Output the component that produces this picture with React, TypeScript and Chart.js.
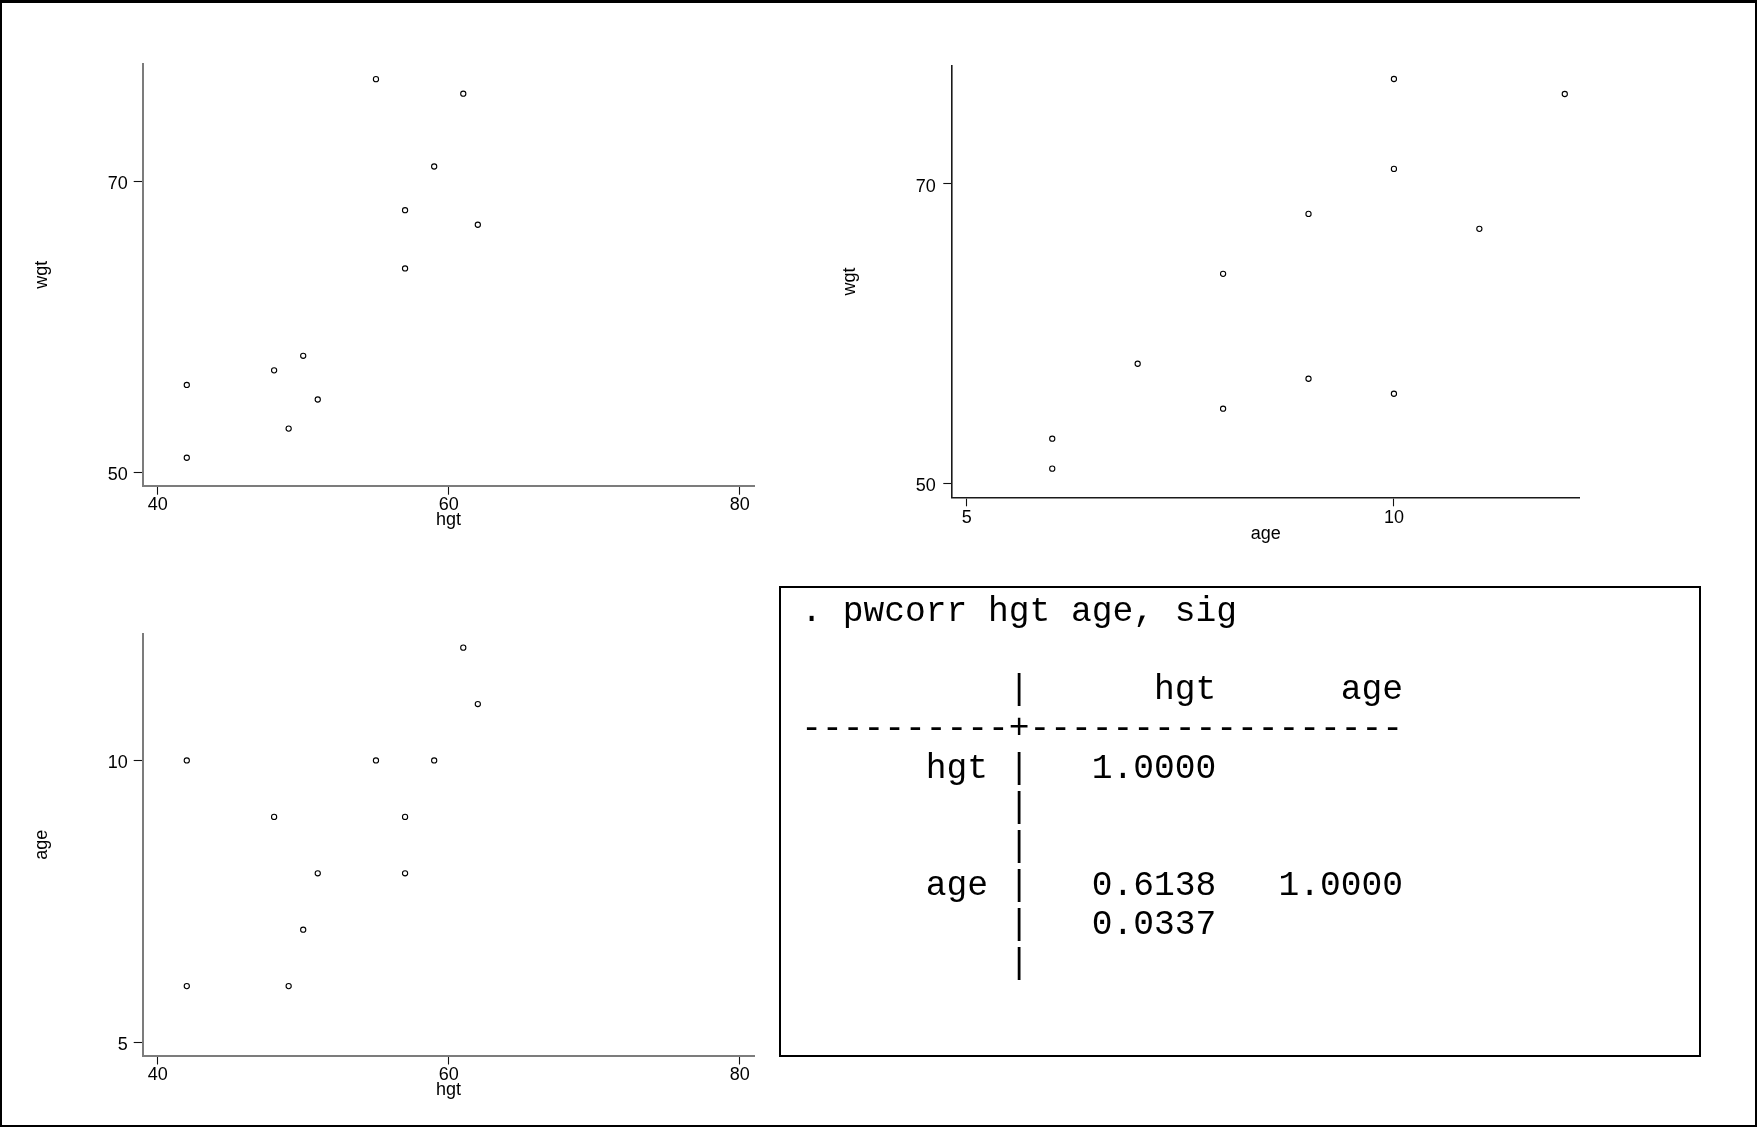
import React, { useEffect, useRef } from "react";
import { Chart, registerables } from "chart.js";

Chart.register(...registerables);

// ---- data (12 observations) ----
const HGT = [55, 61, 59, 57, 62, 57, 50, 48, 42, 51, 49, 42];
const WGT = [77, 76, 71, 68, 67, 64, 58, 57, 56, 55, 53, 51];
const AGE = [10, 12, 10, 9, 11, 8, 7, 9, 10, 8, 6, 6];

// ---- tick labels ----
const HGT_TICKS = [40, 60, 80];
const WGT_TICKS = [50, 70];
const AGE_TICKS = [5, 10];

// ---- console output text ----
const PWCORR_LINES = [
  " . pwcorr hgt age, sig",
  "",
  "           |      hgt      age",
  " ----------+------------------",
  "       hgt |   1.0000",
  "           |",
  "           |",
  "       age |   0.6138   1.0000",
  "           |   0.0337",
  "           |",
];

const SANS = "'Liberation Sans', Arial, Helvetica, sans-serif";

interface AxisSpec {
  data: number[];
  ticks: number[];
  title: string;
  min: number;
  max: number;
}

interface PanelSpec {
  box: [number, number, number, number]; // L, T, W, H (page px)
  area: [number, number, number, number]; // chart area left, top, right, bottom (page px)
  x: AxisSpec;
  y: AxisSpec;
  axisColor: string;
  axisWidth: number;
  yTickPad: number;
  xTickPad: number;
  yTitleCenterX: number; // page px
  xTitleCenterY: number; // page px
}

const PANELS: PanelSpec[] = [
  {
    box: [0, 0, 800, 560],
    area: [142.7, 64, 754.3, 485.7],
    x: { data: HGT, ticks: HGT_TICKS, title: "hgt", min: 38.97, max: 81.0 },
    y: { data: WGT, ticks: WGT_TICKS, title: "wgt", min: 49.08, max: 78.04 },
    axisColor: "#7c7c7c",
    axisWidth: 2,
    yTickPad: 6,
    xTickPad: 1.5,
    yTitleCenterX: 42.5,
    xTitleCenterY: 520.5,
  },
  {
    box: [790, 0, 960, 560],
    area: [952.3, 65.5, 1579.3, 497.3],
    x: { data: AGE, ticks: AGE_TICKS, title: "age", min: 4.83, max: 12.17 },
    y: { data: WGT, ticks: WGT_TICKS, title: "wgt", min: 49.09, max: 77.9 },
    axisColor: "#1a1a1a",
    axisWidth: 1.6,
    yTickPad: 7.5,
    xTickPad: 3,
    yTitleCenterX: 850,
    xTitleCenterY: 534.5,
  },
  {
    box: [0, 570, 800, 557],
    area: [142.7, 634.1, 754.3, 1055.5],
    x: { data: HGT, ticks: HGT_TICKS, title: "hgt", min: 38.97, max: 81.0 },
    y: { data: AGE, ticks: AGE_TICKS, title: "age", min: 4.77, max: 12.24 },
    axisColor: "#7c7c7c",
    axisWidth: 2,
    yTickPad: 6,
    xTickPad: 2,
    yTitleCenterX: 42.5,
    xTitleCenterY: 1090.5,
  },
];

function buildConfig(spec: PanelSpec): any {
  const [L, T, W, H] = spec.box;
  const [cl, ct, cr, cb] = spec.area;
  const font = { family: SANS, size: 18, lineHeight: 1 };
  const grid = {
    display: true,
    drawOnChartArea: false,
    drawTicks: true,
    tickLength: 9,
    tickColor: "#111",
    tickWidth: 1.1,
    color: "#111",
  };
  const border = { display: true, color: spec.axisColor, width: spec.axisWidth };
  return {
    type: "scatter",
    data: {
      datasets: [
        {
          data: spec.x.data.map((x, i) => ({ x, y: spec.y.data[i] })),
          pointRadius: 2.6,
          pointHoverRadius: 2.6,
          pointBorderWidth: 1.1,
          pointBorderColor: "#000",
          pointBackgroundColor: "rgba(0,0,0,0)",
          showLine: false,
        },
      ],
    },
    options: {
      responsive: true,
      maintainAspectRatio: false,
      animation: false,
      devicePixelRatio: 1,
      events: [],
      layout: { padding: { left: 0, top: ct - T, right: L + W - cr, bottom: 0 } },
      plugins: {
        legend: { display: false },
        tooltip: { enabled: false },
        title: { display: false },
      },
      scales: {
        x: {
          type: "linear",
          position: "bottom",
          min: spec.x.min,
          max: spec.x.max,
          afterBuildTicks: (s: any) => {
            s.ticks = spec.x.ticks.map((v) => ({ value: v }));
          },
          afterFit: (s: any) => {
            s.height = T + H - cb;
          },
          grid,
          border,
          ticks: {
            autoSkip: false,
            maxRotation: 0,
            minRotation: 0,
            padding: spec.xTickPad,
            color: "#000",
            font,
            callback: (v: any) => String(v),
          },
          title: {
            display: true,
            text: spec.x.title,
            color: "#000",
            font,
            padding: { top: 0, bottom: T + H - spec.xTitleCenterY - 9 },
          },
        },
        y: {
          type: "linear",
          position: "left",
          min: spec.y.min,
          max: spec.y.max,
          afterBuildTicks: (s: any) => {
            s.ticks = spec.y.ticks.map((v) => ({ value: v }));
          },
          afterFit: (s: any) => {
            s.width = cl - L;
          },
          grid,
          border,
          ticks: {
            autoSkip: false,
            padding: spec.yTickPad,
            labelOffset: 2.8,
            color: "#000",
            font,
            callback: (v: any) => String(v),
          },
          title: {
            display: true,
            text: spec.y.title,
            color: "#000",
            font,
            padding: { top: spec.yTitleCenterX - L - 9, bottom: 0 },
          },
        },
      },
    },
  };
}

function ScatterPanel({ spec }: { spec: PanelSpec }) {
  const ref = useRef<HTMLCanvasElement>(null);
  useEffect(() => {
    if (!ref.current) return;
    const chart = new Chart(ref.current, buildConfig(spec));
    return () => chart.destroy();
  }, [spec]);
  const [L, T, W, H] = spec.box;
  return (
    <div style={{ position: "absolute", left: L, top: T, width: W, height: H }}>
      <canvas ref={ref} />
    </div>
  );
}

export default function App() {
  return (
    <div
      style={{
        position: "fixed",
        left: 0,
        top: 0,
        width: 1757,
        height: 1127,
        background: "#fff",
        overflow: "hidden",
      }}
    >
      <div
        style={{
          position: "absolute",
          left: 0,
          top: 0,
          width: 1757,
          height: 1127,
          boxSizing: "border-box",
          border: "2px solid #000",
          borderTopWidth: 3,
        }}
      />
      {PANELS.map((p, i) => (
        <ScatterPanel key={i} spec={p} />
      ))}
      <div
        style={{
          position: "absolute",
          left: 778.5,
          top: 585.5,
          width: 922.5,
          height: 471,
          boxSizing: "border-box",
          border: "2px solid #000",
        }}
      />
      <div
        style={{
          position: "absolute",
          left: 780.6,
          top: 591.8,
          fontFamily: "'Liberation Mono', 'Courier New', monospace",
          fontSize: "34.6px",
          lineHeight: "39.2px",
          color: "#000",
          whiteSpace: "pre",
        }}
      >
        {PWCORR_LINES.map((line, i) => (
          <div key={i} style={{ height: "39.2px", whiteSpace: "pre" }}>
            {line.length ? line : " "}
          </div>
        ))}
      </div>
    </div>
  );
}
